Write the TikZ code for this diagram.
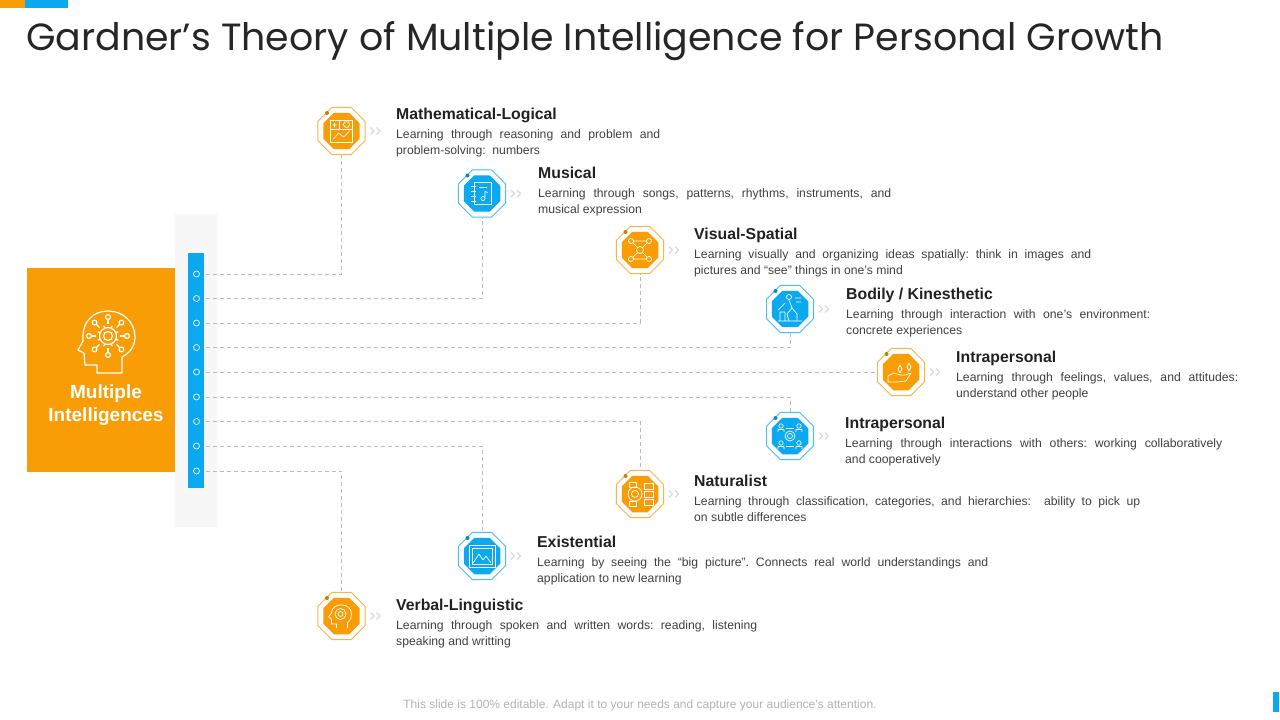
\documentclass[tikz,border=0pt]{standalone}
\usepackage{fontspec}
\setmainfont{Liberation Sans}
\newfontfamily\titlefont{Poppins}
\usetikzlibrary{positioning,shapes.geometric}
\definecolor{brandorange}{HTML}{F99D07}
\definecolor{brandblue}{HTML}{0BA9EF}
\begin{document}
\begin{tikzpicture}
[x=1pt,y=-1pt,
   ring/.style={regular polygon,regular polygon sides=8,minimum size=51pt,inner sep=0pt,fill=white,line width=.9pt},
   core/.style={regular polygon,regular polygon sides=8,minimum size=39.5pt,inner sep=0pt},
   link/.style={draw=black!27,line width=.6pt,dash pattern=on 4pt off 3pt,shorten <=6pt},
   chev/.style={draw=black!15,line width=1.2pt},
   icon/.style={draw=white,line width=.7pt,line join=round},
   topic/.style={anchor=base west,inner sep=0pt,text height=12pt,text depth=4pt,text=black!87,font=\fontsize{15.8}{18}\selectfont\bfseries},
   descr/.style={anchor=north west,inner sep=0pt,align=justify,text=black!75,font=\fontsize{12.2}{16}\selectfont\frenchspacing}]
\useasboundingbox (0,0) rectangle (1280,720);

\fill[brandorange] (0,0) rectangle (25,8);
\fill[brandblue] (25,0) rectangle (68,8);
\fill[brandblue] (1273,692) rectangle (1279,712);

\node[anchor=base west,inner sep=0pt,text=black!85,font=\fontsize{37.9}{44}\selectfont\titlefont] (title) at (26,50.5) {Gardner’s Theory of Multiple Intelligence for Personal Growth};

\fill[black!3] (175,214) rectangle (217,527);
\fill[brandorange] (27,268) rectangle (175,472);
\fill[brandblue] (188,253) rectangle (204,488);
\node[align=center,text=white,font=\fontsize{19}{23}\selectfont\bfseries] (mi) at (106,405) {Multiple\\Intelligences};

% head in the big box
\draw[icon,line width=1.2pt] (97,365) -- (97,373) -- (122,373) -- (122,357) .. controls (130,353) and (135,346) .. (135,337) .. controls (135,322) and (123,311) .. (108,311) .. controls (93,311) and (83,322) .. (83,336) -- (83,341) -- (78,350) -- (84,353) -- (85,365) -- cycle;
\draw[icon,line width=1.2pt] (108,336) circle (4.5) (108,336) circle (8.5);
\foreach \a in {0,45,...,315}{
	\draw[icon,line width=1.2pt] (108,336) ++(\a+22.5:8.5) -- ++(\a+22.5:2.5);
	\draw[icon,line width=1.2pt] (108,336) ++(\a:12) -- ++(\a:4.5);
	\draw[icon,line width=1.2pt] (108,336) ++(\a:19) circle (2.4);
}

\foreach \i/\py in {1/274,2/298.5,3/323,4/347.5,5/372,6/397,7/421.5,8/446,9/471}{
	\node[circle,draw=white,line width=.7pt,inner sep=0pt,minimum size=6pt] (hole\i) at (196.5,\py) {};
}

\foreach \n/\px/\py/\col in {math/341.5/131/brandorange,music/482/193.5/brandblue,visual/640/250/brandorange,bodily/790/309/brandblue,intraA/901/372/brandorange,intraB/790/436/brandblue,nature/640/494/brandorange,exist/482/556/brandblue,verbal/341.5/616/brandorange}{
	\node[ring,draw=\col!75] (\n) at (\px,\py) {};
	\node[core,fill=\col] (\n core) at (\px,\py) {};
	\fill[\col!80!black] (\px-14.5,\py-18) circle (2);
	\draw[chev] (\px+29,\py-3.5) -- ++(3.5,3.5) -- ++(-3.5,3.5);
	\draw[chev] (\px+35,\py-3.5) -- ++(3.5,3.5) -- ++(-3.5,3.5);
}

\draw[link] (hole1) -| (math);
\draw[link] (hole2) -| (music);
\draw[link] (hole3) -| (visual);
\draw[link] (hole4) -| (bodily);
\draw[link] (hole5) -- (intraA);
\draw[link] (hole6) -| (intraB);
\draw[link] (hole7) -| (nature);
\draw[link] (hole8) -| (exist);
\draw[link] (hole9) -| (verbal);

\node[topic] (mathHead) at (396,119.3) {Mathematical-Logical};
\node[descr,text width=264pt,below=6pt of mathHead.south west,anchor=north west] (mathText) {Learning through reasoning and problem and\linebreak problem-solving:~ numbers};
\node[topic] (musicHead) at (538,178.3) {Musical};
\node[descr,text width=353pt,below=6pt of musicHead.south west,anchor=north west] (musicText) {Learning through songs, patterns, rhythms, instruments, and\linebreak musical expression};
\node[topic] (visualHead) at (694,239.3) {Visual-Spatial};
\node[descr,text width=397pt,below=6pt of visualHead.south west,anchor=north west] (visualText) {Learning visually and organizing ideas spatially: think in images and\linebreak pictures and “see” things in one’s mind};
\node[topic] (bodilyHead) at (846,299.3) {Bodily / Kinesthetic};
\node[descr,text width=304pt,below=6pt of bodilyHead.south west,anchor=north west] (bodilyText) {Learning through interaction with one’s environment:\linebreak concrete experiences};
\node[topic] (intraAHead) at (956,362.3) {Intrapersonal};
\node[descr,text width=282pt,below=6pt of intraAHead.south west,anchor=north west] (intraAText) {Learning through feelings, values, and attitudes:\linebreak understand other people};
\node[topic] (intraBHead) at (845,428.3) {Intrapersonal};
\node[descr,text width=377pt,below=6pt of intraBHead.south west,anchor=north west] (intraBText) {Learning through interactions with others: working collaboratively\linebreak and cooperatively};
\node[topic] (natureHead) at (694,486.3) {Naturalist};
\node[descr,text width=446pt,below=6pt of natureHead.south west,anchor=north west] (natureText) {Learning through classification, categories, and hierarchies:~ ability to pick up\linebreak on subtle differences};
\node[topic] (existHead) at (537,547.3) {Existential};
\node[descr,text width=451pt,below=6pt of existHead.south west,anchor=north west] (existText) {Learning by seeing the “big picture”. Connects real world understandings and\linebreak application to new learning};
\node[topic] (verbalHead) at (396,610.3) {Verbal-Linguistic};
\node[descr,text width=361pt,below=6pt of verbalHead.south west,anchor=north west] (verbalText) {Learning through spoken and written words: reading, listening\linebreak speaking and writting};

\node[text=black!30,font=\fontsize{12}{14}\selectfont] (foot) at (640,705) {This slide is 100\% editable. Adapt it to your needs and capture your audience's attention.};

% small icons
\begin{scope}[shift={(341.5,131)}]
	\draw[icon] (-11,-11) rectangle (11,11) (-11,-2) -- (11,-2) (-2,-11) -- (-2,-2);
	\draw[icon] (5,-6.5) circle (3) (-7,-8) -- (-7,-4) (-9,-6) -- (-5,-6);
	\draw[icon] (-8,8) -- (-3,2) -- (2,6) -- (8,0);
\end{scope}
\begin{scope}[shift={(482,193.5)}]
	\draw[icon] (-8,-11) rectangle (9,11) (-11,-7) -- (-6,-7) (-11,-2) -- (-6,-2) (-11,3) -- (-6,3) (-11,8) -- (-6,8);
	\draw[icon] (-3,-6) -- (5,-6) (1,5) circle (2) (3,5) -- (3,-2) -- (6,-1);
\end{scope}
\begin{scope}[shift={(640,250)}]
	\draw[icon] (-9,-9) circle (2.5) (9,-9) circle (2.5) (-9,9) circle (2.5) (9,9) circle (2.5) (0,0) circle (3.5);
	\draw[icon] (-7,-7) -- (-2.5,-2.5) (7,-7) -- (2.5,-2.5) (-7,7) -- (-2.5,2.5) (7,7) -- (2.5,2.5) (-6,-9) -- (6,-9) (-6,9) -- (6,9);
\end{scope}
\begin{scope}[shift={(790,309)}]
	\draw[icon] (-1,-12) circle (2.5) (-1,-9) -- (2,-1) -- (-3,5) -- (-1,12) (2,-1) -- (7,5) -- (7,12);
	\draw[icon] (-12,1) -- (-5,-6) (-12,12) -- (12,12) (-10,3) rectangle (-5,12) (5,-11) -- (11,-11) (6,-7) -- (11,-7);
\end{scope}
\begin{scope}[shift={(901,372)}]
	\draw[icon] (-13,4) -- (-7,1) -- (-1,3) -- (4,3) -- (10,1) -- (5,9) -- (-4,10) -- (-13,10) -- cycle;
	\draw[icon] (-1,-7) -- (1,-3) -- (-1,1) -- (-3,-3) -- cycle (8,-9) -- (10,-5) -- (8,-1) -- (6,-5) -- cycle;
\end{scope}
\begin{scope}[shift={(790,436)}]
	\draw[icon] (0,0) circle (2.5) (0,0) circle (5);
	\foreach \sx in {-9,9}{
		\foreach \sy in {-10,7}{
			\draw[icon] (\sx,\sy) circle (2.2) (\sx-3,\sy+6) -- (\sx-3,\sy+3.5) -- (\sx+3,\sy+3.5) -- (\sx+3,\sy+6);
		}
	}
	\draw[icon] (-4,-8) -- (4,-8) (-4,10) -- (4,10);
\end{scope}
\begin{scope}[shift={(640,494)}]
	\draw[icon] (-5,0) circle (7) (-5,0) circle (3.5);
	\draw[icon] (-11,-12) rectangle (-4,-7) (-11,7) rectangle (-4,12);
	\draw[icon] (4,-11) rectangle (13,-5) (4,-3) rectangle (13,3) (4,5) rectangle (13,11);
\end{scope}
\begin{scope}[shift={(482,556)}]
	\draw[icon,line width=.9pt] (-13,-11) rectangle (13,11) (-10,-8) rectangle (10,8);
	\draw[icon] (-9,7) -- (-3,-2) -- (1,4) -- (4,0) -- (9,7);
\end{scope}
\begin{scope}[shift={(341.5,616)}]
	\draw[icon] (-5,12) -- (-5,8) -- (-10,8) -- (-10,3) -- (-13,1) -- (-10,-3) .. controls (-10,-14) and (10,-14) .. (10,-2) .. controls (10,3) and (7,6) .. (6,7) -- (6,12);
	\draw[icon] (-1,-2) circle (2.5) (-1,-2) circle (5.5);
\end{scope}
\end{tikzpicture}
\end{document}
